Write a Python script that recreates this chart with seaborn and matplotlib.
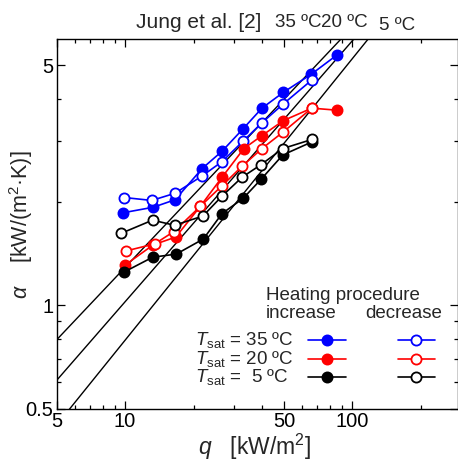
import numpy as np
import pandas as pd
import matplotlib
matplotlib.use("Agg")
import matplotlib.pyplot as plt
from matplotlib.lines import Line2D
from matplotlib.ticker import FixedLocator, FixedFormatter, LogLocator, NullFormatter
import seaborn as sns

# ---------------- data ----------------
q_inc_35 = [9.8, 13.3, 16.6, 21.8, 26.7, 33.1, 40.0, 49.7, 66.0, 85.3]
a_inc_35 = [1.86, 1.93, 2.03, 2.50, 2.81, 3.27, 3.75, 4.17, 4.71, 5.35]
q_dec_35 = [9.9, 13.1, 16.6, 21.8, 26.7, 33.1, 40.0, 49.7, 66.3]
a_dec_35 = [2.06, 2.02, 2.12, 2.38, 2.62, 3.01, 3.40, 3.86, 4.53]

q_inc_20 = [10.0, 13.3, 16.7, 21.4, 26.7, 33.3, 40.0, 49.7, 66.3, 85.3]
a_inc_20 = [1.31, 1.50, 1.58, 1.94, 2.36, 2.86, 3.12, 3.45, 3.75, 3.70]
q_dec_20 = [10.1, 13.5, 16.4, 21.4, 26.7, 32.7, 40.0, 49.7, 66.3]
a_dec_20 = [1.44, 1.51, 1.64, 1.94, 2.23, 2.54, 2.86, 3.20, 3.75]

q_inc_5 = [9.9, 13.2, 16.8, 22.1, 26.7, 33.1, 39.7, 49.4, 66.3]
a_inc_5 = [1.25, 1.38, 1.41, 1.56, 1.85, 2.05, 2.33, 2.74, 2.99]
q_dec_5 = [9.6, 13.2, 16.5, 22.0, 26.7, 32.7, 39.7, 49.4, 66.3]
a_dec_5 = [1.62, 1.77, 1.71, 1.82, 2.08, 2.36, 2.57, 2.86, 3.04]

temps = ["35", "20", " 5"]
colors = ["#0000ff", "#ff0000", "#000000"]

# correlation lines (Jung et al.) alpha = C * q^n
corr_labels = ["35 ºC", "20 ºC", "5 ºC"]
corr_C = [0.2573, 0.178, 0.1198]
corr_n = [0.70, 0.76, 0.82]

x_ticks = [5, 10, 50, 100]
x_ticklabels = ["5", "10", "50", "100"]
y_ticks = [0.5, 1, 5]
y_ticklabels = ["0.5", "1", "5"]

# ---------------- style ----------------
sns.set_style("ticks")
plt.rcParams["font.family"] = ["Liberation Sans", "DejaVu Sans"]
plt.rcParams["mathtext.fontset"] = "custom"
plt.rcParams["mathtext.rm"] = "Liberation Sans"
plt.rcParams["mathtext.it"] = "Liberation Sans:italic"

W, H = 458, 462
fig = plt.figure(figsize=(W / 100, H / 100), dpi=100)
ax = fig.add_axes([56.7 / W, 1 - 408.7 / H, (457.5 - 56.7) / W, (408.7 - 39.3) / H])

FS = 13.5
TICK_FS = 14.5
LAB_FS = 15.5

# correlation lines
qq = np.geomspace(4.5, 320, 200)
for C, n in zip(corr_C, corr_n):
    sns.lineplot(x=qq, y=C * qq ** n, ax=ax, color="black", lw=1.0, sort=False,
                 estimator=None)

series = [
    (q_inc_35, a_inc_35, colors[0], True),
    (q_dec_35, a_dec_35, colors[0], False),
    (q_inc_20, a_inc_20, colors[1], True),
    (q_dec_20, a_dec_20, colors[1], False),
    (q_inc_5, a_inc_5, colors[2], True),
    (q_dec_5, a_dec_5, colors[2], False),
]
for q, a, c, filled in series:
    df = pd.DataFrame({"q": q, "a": a})
    sns.lineplot(data=df, x="q", y="a", ax=ax, color=c, lw=1.2, sort=False,
                 estimator=None, marker="o", markersize=7.3,
                 markerfacecolor=c if filled else "white",
                 markeredgecolor=c, markeredgewidth=1.3)

ax.set_xscale("log")
ax.set_yscale("log")
ax.set_xlim(5, 290)
ax.set_ylim(0.5, 5.95)

ax.xaxis.set_major_locator(FixedLocator(x_ticks))
ax.xaxis.set_major_formatter(FixedFormatter(x_ticklabels))
ax.xaxis.set_minor_locator(LogLocator(base=10, subs=np.arange(2, 10)))
ax.xaxis.set_minor_formatter(NullFormatter())
ax.yaxis.set_major_locator(FixedLocator(y_ticks))
ax.yaxis.set_major_formatter(FixedFormatter(y_ticklabels))
ax.yaxis.set_minor_locator(LogLocator(base=10, subs=np.arange(2, 10)))
ax.yaxis.set_minor_formatter(NullFormatter())

ax.tick_params(which="both", direction="in", top=True, right=True,
               width=0.9, colors="black", labelsize=TICK_FS)
ax.tick_params(which="major", length=6, pad=2.5)
ax.tick_params(which="minor", length=3)
for s in ax.spines.values():
    s.set_linewidth(1.0)
    s.set_color("black")

ax.set_xlabel(r"$q$   [kW/m$^2$]", fontsize=16.5)
ax.set_ylabel(r"$\alpha$    [kW/(m$^2$·K)]", fontsize=LAB_FS)
ax.xaxis.set_label_coords((255 - 56.7) / (457.5 - 56.7), -(447 - 408.7) / (408.7 - 39.3))
ax.yaxis.set_label_coords(-(56.7 - 21) / (457.5 - 56.7), (408.7 - 225) / (408.7 - 39.3))
ax.xaxis.label.set_va("center")
ax.yaxis.label.set_va("center")

# title pieces (labels of the correlation lines)
fig.text(136 / W, 1 - 27.5 / H, "Jung et al. [2]", fontsize=15, ha="left", va="baseline")
fig.text(275 / W, 1 - 27 / H, corr_labels[0], fontsize=FS, ha="left", va="baseline")
fig.text(321 / W, 1 - 27 / H, corr_labels[1], fontsize=FS, ha="left", va="baseline")
fig.text(379 / W, 1 - 30.5 / H, corr_labels[2], fontsize=FS, ha="left", va="baseline")

# legend (manual layout)
fig.text(266 / W, 1 - 295 / H, "Heating procedure", fontsize=FS, ha="left", va="center")
fig.text(266 / W, 1 - 313.5 / H, "increase", fontsize=FS, ha="left", va="center")
fig.text(365.7 / W, 1 - 313.5 / H, "decrease", fontsize=FS, ha="left", va="center")
row_y = [340.3, 358.7, 377.3]
for t, c, yy in zip(temps, colors, row_y):
    fig.text(195 / W, 1 - yy / H, r"$T_{\rm sat}$ = " + t + " ºC", fontsize=FS,
             ha="left", va="center")
    for x0, x1, xm, filled in [(308.3, 345.7, 327, True), (398.3, 435, 416.3, False)]:
        fig.add_artist(Line2D([x0 / W, x1 / W], [1 - yy / H] * 2, color=c, lw=1.2,
                              transform=fig.transFigure))
        fig.add_artist(Line2D([xm / W], [1 - yy / H], color=c, marker="o", markersize=7.3,
                              markerfacecolor=c if filled else "white",
                              markeredgecolor=c, markeredgewidth=1.3,
                              transform=fig.transFigure))

fig.savefig("out.png", dpi=100)
